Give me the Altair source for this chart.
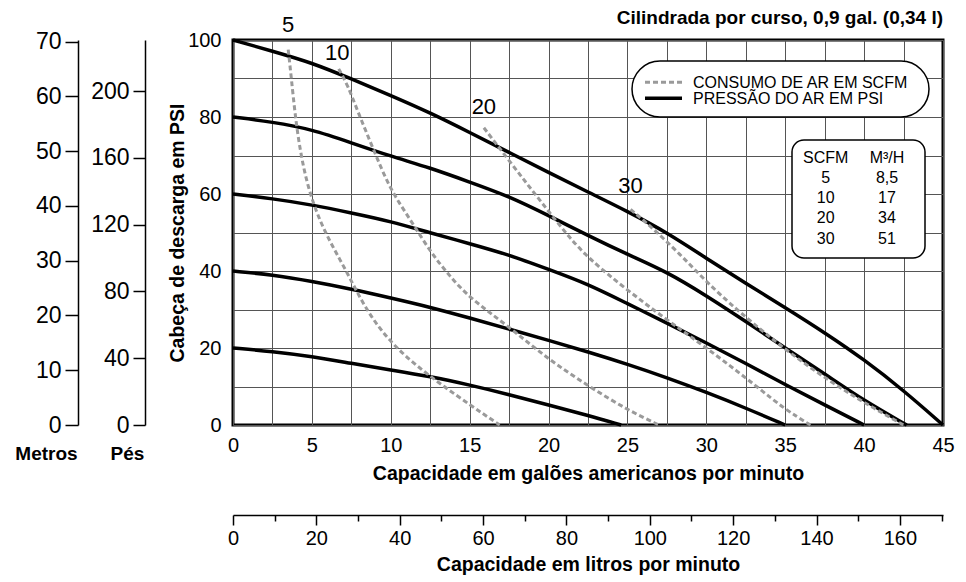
import altair as alt
import pandas as pd

FONT = "Liberation Sans"

# ---------------- data ----------------
# Pressure curves (air pressure in PSI): capacity (US gal/min) vs discharge head (PSI)
p100_gal = [0, 2.5, 5, 7.5, 10, 12.5, 15, 17.5, 20, 22.5, 25, 27.5, 30, 32.5, 35, 37.5, 40, 42.5, 45]
p100_psi = [100, 97.1, 94.1, 89.9, 85.6, 81.1, 76.0, 70.8, 65.6, 60.5, 55.5, 50.0, 43.3, 36.8, 30.5, 24.0, 17.0, 9.0, 0]

p80_gal = [0, 2.5, 5, 7.5, 10, 12.5, 15, 17.5, 20, 22.5, 25, 27.5, 30, 32.5, 35, 37.5, 40, 42.7]
p80_psi = [80, 78.7, 76.8, 73.3, 69.8, 66.8, 63.1, 59.4, 54.4, 49.2, 44.3, 39.8, 33.6, 26.9, 20.0, 13.3, 6.3, 0]

p60_gal = [0, 2.5, 5, 7.5, 10, 12.5, 15, 17.5, 20, 22.5, 25, 27.5, 30, 32.5, 35, 37.5, 40]
p60_psi = [60, 58.8, 57.2, 55.1, 52.9, 49.9, 47.1, 44.2, 40.4, 36.6, 31.5, 26.5, 21.3, 16.0, 10.5, 5.2, 0]

p40_gal = [0, 2.5, 5, 7.5, 10, 12.5, 15, 17.5, 20, 22.5, 25, 27.5, 30, 32.5, 35]
p40_psi = [40, 39.0, 37.3, 35.3, 33.0, 30.6, 27.8, 24.9, 22.0, 19.0, 15.8, 12.3, 8.5, 4.4, 0]

p20_gal = [0, 2.5, 5, 7.5, 10, 12.5, 15, 17.5, 20, 22.5, 24.6]
p20_psi = [20, 19.1, 17.8, 16.0, 14.3, 12.6, 10.4, 7.9, 5.2, 2.5, 0]

# Air consumption curves (SCFM)
s5_gal = [3.5, 3.7, 3.95, 4.3, 4.85, 5.8, 7.2, 8.4, 10.2, 13.3, 16.9]
s5_psi = [97.5, 90, 80, 70, 60, 50, 40, 30, 20, 10, 0]

s10_gal = [6.7, 7.3, 7.85, 8.9, 9.95, 11.3, 12.5, 13.75, 15.0, 17.5, 20.0, 22.5, 25.0, 27.0]
s10_psi = [92.5, 88, 82, 71.6, 61.2, 53, 45, 38.6, 33, 25.5, 17, 10.2, 3.9, 0]

s20_gal = [15.9, 17.4, 18.7, 20.0, 21.3, 22.6, 25.0, 27.5, 29.0, 31.0, 33.2, 35.0, 36.6]
s20_psi = [77.2, 69.2, 62.3, 55.5, 48.8, 43.0, 35.0, 27.3, 23.0, 17.0, 10.0, 4.0, 0]

s30_gal = [25.2, 26.5, 28.3, 30.0, 31.9, 35.0, 38.0, 40.8, 42.5]
s30_psi = [56, 51.5, 44.5, 37.2, 30, 19.5, 10.8, 3.9, 0]

# curve labels (SCFM values) and table of SCFM -> m3/h
scfm_vals = [5, 10, 20, 30]
m3h_vals = ["8,5", "17", "34", "51"]
label_gal = [3.5, 6.6, 15.9, 25.2]
label_psi = [103.8, 96.6, 82.7, 62.0]

# axis tick values
gal_grid = [i * 2.5 for i in range(19)]
psi_grid = list(range(0, 101, 10))
metros_ticks = list(range(0, 71, 10))
pes_ticks = list(range(0, 201, 40))
litros_major = list(range(0, 161, 20))
litros_minor = list(range(10, 171, 20))

CONS = "CONSUMO DE AR EM SCFM"
PRESS = "PRESSÃO DO AR EM PSI"
DASH_COLOR = "#9a9a9a"

# ---------------- tables ----------------
rows = []
for name, xs, ys in [("P100", p100_gal, p100_psi), ("P80", p80_gal, p80_psi), ("P60", p60_gal, p60_psi),
                     ("P40", p40_gal, p40_psi), ("P20", p20_gal, p20_psi)]:
    for i, (x, y) in enumerate(zip(xs, ys)):
        rows.append({"gal": x, "psi": y, "curva": name, "ordem": i})
df_press = pd.DataFrame(rows)

rows = []
for name, xs, ys in [("S5", s5_gal, s5_psi), ("S10", s10_gal, s10_psi),
                     ("S20", s20_gal, s20_psi), ("S30", s30_gal, s30_psi)]:
    for i, (x, y) in enumerate(zip(xs, ys)):
        rows.append({"gal": x, "psi": y, "curva": name, "ordem": i})
df_scfm = pd.DataFrame(rows)

df_labels = pd.DataFrame({"gal": label_gal, "psi": label_psi, "txt": [str(v) for v in scfm_vals]})
dummy = pd.DataFrame({"k": [0]})


def XS():
    return alt.Scale(domain=[0, 45], nice=False, zero=False)


def YS():
    return alt.Scale(domain=[0, 100], nice=False, zero=False)


x_axis = alt.Axis(
    orient="bottom",
    values=gal_grid, labelExpr="datum.value % 5 == 0 ? datum.label : ''",
    grid=True, gridColor="#555555", gridWidth=1, ticks=False, domain=False,
    labelFontSize=20, labelPadding=10, labelColor="black", labelFont=FONT, labelFlush=False,
    title="Capacidade em galões americanos por minuto", titleFontSize=19.5,
    titleFontWeight="bold", titlePadding=9, titleColor="black", titleFont=FONT,
)
y_axis = alt.Axis(
    orient="left",
    values=psi_grid, labelExpr="datum.value % 20 == 0 ? datum.label : ''",
    grid=True, gridColor="#555555", gridWidth=1, ticks=False, domain=False,
    labelFontSize=20, labelPadding=12, labelColor="black", labelFont=FONT, labelFlush=False,
    title="Cabeça de descarga em PSI", titleFontSize=19.5, titleFontWeight="bold",
    titlePadding=0, titleColor="black", titleFont=FONT,
)

press_layer = alt.Chart(df_press).mark_line(strokeWidth=3.5, color="black", interpolate="basis").encode(
    x=alt.X("gal:Q", scale=XS(), axis=x_axis),
    y=alt.Y("psi:Q", scale=YS(), axis=y_axis),
    detail="curva:N", order="ordem:Q",
)
scfm_layer = alt.Chart(df_scfm).mark_line(strokeWidth=3, color=DASH_COLOR, strokeDash=[5, 3],
                                          interpolate="basis").encode(
    x=alt.X("gal:Q", scale=XS(), axis=None),
    y=alt.Y("psi:Q", scale=YS(), axis=None),
    detail="curva:N", order="ordem:Q",
)
label_layer = alt.Chart(df_labels).mark_text(fontSize=22, font=FONT, color="black").encode(
    x=alt.X("gal:Q", scale=XS(), axis=None),
    y=alt.Y("psi:Q", scale=YS(), axis=None),
    text="txt:N",
)

# legend box (top right)
legend_box = alt.Chart(dummy).mark_rect(fill="white", stroke="black", strokeWidth=1.5, cornerRadius=28).encode(
    x=alt.value(399), x2=alt.value(696), y=alt.value(21), y2=alt.value(77))
legend_dash = alt.Chart(dummy).mark_rule(color=DASH_COLOR, strokeWidth=3, strokeDash=[5, 3]).encode(
    x=alt.value(412), x2=alt.value(449), y=alt.value(42.3))
legend_solid = alt.Chart(dummy).mark_rule(color="black", strokeWidth=3.5).encode(
    x=alt.value(412), x2=alt.value(449), y=alt.value(58.3))
legend_t1 = alt.Chart(dummy).mark_text(fontSize=16, font=FONT, align="left", baseline="middle", color="black").encode(
    x=alt.value(460), y=alt.value(43), text=alt.value(CONS))
legend_t2 = alt.Chart(dummy).mark_text(fontSize=16, font=FONT, align="left", baseline="middle", color="black").encode(
    x=alt.value(460), y=alt.value(59), text=alt.value(PRESS))

# SCFM / M3/H table
table_box = alt.Chart(dummy).mark_rect(fill="white", stroke="black", strokeWidth=1.5, cornerRadius=12).encode(
    x=alt.value(559), x2=alt.value(692), y=alt.value(100), y2=alt.value(218))
col1 = "\n".join(["SCFM"] + [str(v) for v in scfm_vals])
col2 = "\n".join(["M³/H"] + m3h_vals)
table_c1 = alt.Chart(dummy).mark_text(lineBreak="\n", lineHeight=20.3, fontSize=16, font=FONT,
                                      align="center", baseline="alphabetic", color="black").encode(
    x=alt.value(592.7), y=alt.value(122.5), text=alt.value(col1))
table_c2 = alt.Chart(dummy).mark_text(lineBreak="\n", lineHeight=20.3, fontSize=16, font=FONT,
                                      align="center", baseline="alphabetic", color="black").encode(
    x=alt.value(654), y=alt.value(122.5), text=alt.value(col2))

top_title = alt.Chart(dummy).mark_text(fontSize=19, font=FONT, fontWeight="bold", align="right",
                                       baseline="middle", color="black").encode(
    x=alt.value(710), y=alt.value(-22), text=alt.value("Cilindrada por curso, 0,9 gal. (0,34 l)"))

side_axis_common = dict(grid=False, labelFontSize=23, labelFont=FONT, labelColor="black", labelFlush=False,
                        domainColor="black", domainWidth=1.5, tickColor="black", tickWidth=1.5,
                        titleFont=FONT, titleFontWeight="bold", titleFontSize=19, titleColor="black",
                        titleAngle=0, titleAlign="center", titleBaseline="middle")

metros_layer = alt.Chart(pd.DataFrame({"m": metros_ticks})).mark_point(opacity=0).encode(
    y=alt.Y("m:Q", scale=alt.Scale(domain=[0, 70.307], nice=False, zero=False),
            axis=alt.Axis(orient="left", offset=155, values=metros_ticks, tickSize=13, labelPadding=4,
                          title="Metros", titleX=-32, titleY=413, **side_axis_common)))
pes_layer = alt.Chart(pd.DataFrame({"f": pes_ticks})).mark_point(opacity=0).encode(
    y=alt.Y("f:Q", scale=alt.Scale(domain=[0, 230.67], nice=False, zero=False),
            axis=alt.Axis(orient="left", offset=88, values=pes_ticks, tickSize=12, labelPadding=4,
                          title="Pés", titleX=-18, titleY=413, **side_axis_common)))
lit_major_layer = alt.Chart(pd.DataFrame({"l": litros_major})).mark_point(opacity=0).encode(
    x=alt.X("l:Q", scale=alt.Scale(domain=[0, 170.34], nice=False, zero=False),
            axis=alt.Axis(orient="bottom", offset=90, values=litros_major, tickSize=10, labelPadding=3,
                          grid=False, labelFontSize=20, labelFont=FONT, labelColor="black", labelFlush=False,
                          domainColor="black", domainWidth=1.5, tickColor="black", tickWidth=1.5,
                          title="Capacidade em litros por minuto", titleFont=FONT, titleFontWeight="bold",
                          titleFontSize=19.5, titleColor="black", titlePadding=7)))
lit_minor_layer = alt.Chart(pd.DataFrame({"l": litros_minor})).mark_point(opacity=0).encode(
    x=alt.X("l:Q", scale=alt.Scale(domain=[0, 170.34], nice=False, zero=False),
            axis=alt.Axis(orient="bottom", offset=90, values=litros_minor, tickSize=6, labels=False,
                          domain=False, grid=False, tickColor="black", tickWidth=1.5, title=None)))

chart = alt.layer(
    press_layer, scfm_layer, label_layer,
    legend_box, legend_dash, legend_solid, legend_t1, legend_t2,
    table_box, table_c1, table_c2, top_title,
    metros_layer, pes_layer, lit_major_layer, lit_minor_layer,
).resolve_scale(
    x="independent", y="independent"
).properties(
    width=710, height=385,
    autosize=alt.AutoSizeParams(type="none"),
    padding={"left": 225, "top": 32, "right": 15, "bottom": 150},
).configure_view(stroke="black", strokeWidth=3)

chart.save("out.html", embed_options={"renderer": "svg", "actions": False})
